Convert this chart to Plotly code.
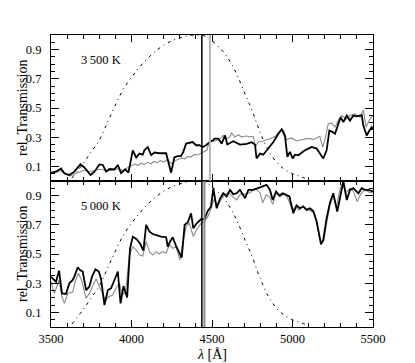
import plotly.graph_objects as go

# ---------------- data ----------------
# filter transmission curve (dash-dot), same in both panels
filt_wl = [3630, 3700, 3750, 3800, 3850, 3900, 3950, 4000, 4050, 4100, 4150, 4200, 4250,
           4300, 4350, 4400, 4450, 4500, 4550, 4600, 4650, 4700, 4750, 4800, 4850, 4900,
           4950, 5000, 5050, 5100]
filt_t = [0.02, 0.12, 0.20, 0.28, 0.40, 0.52, 0.63, 0.71, 0.78, 0.84, 0.89, 0.93, 0.96,
          0.98, 0.995, 1.0, 0.995, 0.96, 0.91, 0.84, 0.74, 0.61, 0.48, 0.33, 0.21, 0.13,
          0.08, 0.05, 0.03, 0.01]

# 3500 K panel
top_black_wl = [3500, 3531, 3562, 3583, 3614, 3645, 3683, 3707, 3745, 3770, 3801, 3822, 3842,
                3863, 3894, 3915, 3935, 3960, 3981, 4008, 4029, 4049, 4070, 4080, 4101, 4122,
                4142, 4173, 4215, 4235, 4246, 4266, 4287, 4308, 4322, 4339, 4360, 4380, 4401,
                4422, 4442, 4463, 4494, 4508, 4515, 4539, 4560, 4581, 4595, 4632, 4674, 4715,
                4746, 4767, 4777, 4798, 4818, 4839, 4881, 4912, 4933, 4953, 4968, 4984, 5001,
                5015, 5036, 5077, 5119, 5150, 5170, 5191, 5212, 5229, 5250, 5264, 5285, 5299,
                5316, 5337, 5357, 5378, 5399, 5430, 5440, 5461, 5478, 5492, 5500]
top_black_t = [0.057, 0.064, 0.086, 0.053, 0.041, 0.064, 0.114, 0.093, 0.041, 0.064, 0.114, 0.11,
               0.064, 0.082, 0.08, 0.11, 0.053, 0.08, 0.057, 0.21, 0.161, 0.188, 0.18, 0.21,
               0.233, 0.177, 0.195, 0.19, 0.19, 0.109, 0.057, 0.161, 0.17, 0.172, 0.2, 0.256,
               0.26, 0.267, 0.245, 0.245, 0.233, 0.245, 0.274, 0.279, 0.29, 0.29, 0.256, 0.312,
               0.25, 0.272, 0.249, 0.255, 0.266, 0.249, 0.154, 0.188, 0.18, 0.21, 0.267, 0.324,
               0.353, 0.31, 0.165, 0.2, 0.154, 0.18, 0.176, 0.21, 0.233, 0.222, 0.188, 0.154,
               0.21, 0.346, 0.335, 0.324, 0.392, 0.437, 0.403, 0.448, 0.414, 0.448, 0.443,
               0.452, 0.38, 0.312, 0.346, 0.369, 0.358]

top_gray_wl = [3500, 3530, 3560, 3590, 3620, 3650, 3680, 3710, 3740, 3770, 3800, 3830, 3860,
               3890, 3920, 3950, 3980, 4000, 4020, 4040, 4060, 4080, 4100, 4120, 4140, 4160,
               4180, 4200, 4225, 4240, 4255, 4270, 4290, 4310, 4330, 4350, 4370, 4390, 4410,
               4430, 4450, 4468, 4478, 4488, 4508, 4529, 4550, 4570, 4591, 4610, 4622, 4643,
               4663, 4684, 4700, 4715, 4735, 4756, 4770, 4787, 4818, 4840, 4860, 4880, 4901,
               4932, 4946, 4963, 4994, 5025, 5045, 5067, 5088, 5108, 5130, 5150, 5170, 5187,
               5201, 5222, 5243, 5264, 5284, 5305, 5336, 5357, 5388, 5419, 5440, 5457, 5477,
               5500]
top_gray_t = [0.05, 0.06, 0.07, 0.045, 0.035, 0.05, 0.065, 0.075, 0.065, 0.07, 0.08, 0.075,
              0.07, 0.075, 0.085, 0.07, 0.095, 0.105, 0.118, 0.106, 0.122, 0.112, 0.128, 0.118,
              0.134, 0.125, 0.14, 0.13, 0.148, 0.125, 0.118, 0.138, 0.148, 0.158, 0.152, 0.168,
              0.165, 0.182, 0.178, 0.192, 0.2, 0.21, 0.25, 0.267, 0.27, 0.278, 0.29, 0.312, 0.29,
              0.30, 0.328, 0.301, 0.317, 0.301, 0.305, 0.308, 0.302, 0.306, 0.233, 0.267,
              0.274, 0.28, 0.29, 0.30, 0.312, 0.358, 0.346, 0.283, 0.295, 0.274, 0.28, 0.283,
              0.29, 0.29, 0.285, 0.295, 0.306, 0.233, 0.278, 0.392, 0.396, 0.369, 0.414, 0.448,
              0.425, 0.448, 0.46, 0.437, 0.486, 0.369, 0.418, 0.448]

# 5000 K panel
bot_black_wl = [3500, 3515, 3531, 3550, 3568, 3593, 3614, 3635, 3645, 3666, 3680, 3697, 3718,
                3738, 3755, 3776, 3797, 3811, 3832, 3853, 3873, 3894, 3915, 3932, 3950, 3973,
                3991, 4008, 4033, 4054, 4074, 4091, 4112, 4132, 4153, 4184, 4215, 4225, 4240,
                4256, 4277, 4298, 4312, 4330, 4349, 4370, 4384, 4405, 4432, 4453, 4474, 4494,
                4508, 4529, 4550, 4570, 4591, 4612, 4632, 4653, 4674, 4705, 4726, 4757, 4788,
                4819, 4839, 4860, 4877, 4898, 4919, 4939, 4960, 4981, 5005, 5025, 5046, 5067,
                5088, 5108, 5129, 5150, 5166, 5177, 5191, 5212, 5232, 5253, 5278, 5299, 5316,
                5337, 5357, 5378, 5409, 5430, 5450, 5471, 5500]
bot_black_t = [0.344, 0.33, 0.31, 0.386, 0.23, 0.226, 0.299, 0.322, 0.345, 0.409, 0.39, 0.38,
               0.253, 0.276, 0.345, 0.395, 0.38, 0.33, 0.15, 0.253, 0.265, 0.322, 0.38, 0.162,
               0.28, 0.203, 0.539, 0.619, 0.60, 0.57, 0.523, 0.699, 0.653, 0.637, 0.63, 0.619,
               0.615, 0.55, 0.585, 0.615, 0.554, 0.50, 0.475, 0.70, 0.716, 0.779, 0.676, 0.71,
               0.738, 0.738, 0.797, 0.824, 0.95, 0.813, 0.88, 0.916, 0.894, 0.939, 0.91, 0.916,
               0.939, 0.882, 0.939, 0.939, 0.951, 0.962, 0.974, 0.939, 0.87, 0.928, 0.90, 0.916,
               0.905, 0.894, 0.779, 0.832, 0.813, 0.825, 0.802, 0.813, 0.795, 0.722, 0.63,
               0.566, 0.596, 0.745, 0.848, 0.916, 0.79, 0.916, 1.0, 0.87, 0.939, 0.951, 0.916,
               0.951, 0.939, 0.939, 0.928]

bot_gray_wl = [3500, 3521, 3550, 3568, 3583, 3604, 3635, 3650, 3670, 3690, 3718, 3738, 3759,
               3780, 3800, 3821, 3837, 3858, 3883, 3904, 3925, 3942, 3963, 3987, 4008, 4029,
               4049, 4070, 4091, 4112, 4132, 4153, 4173, 4194, 4215, 4235, 4256, 4277, 4301,
               4318, 4339, 4360, 4384, 4405, 4432, 4453, 4474, 4494, 4511, 4539, 4570, 4601,
               4632, 4653, 4677, 4705, 4736, 4767, 4798, 4815, 4836, 4857, 4877, 4898, 4922,
               4946, 4967, 5000, 5019, 5040, 5067, 5088, 5108, 5133, 5150, 5166, 5180, 5194,
               5215, 5232, 5253, 5273, 5294, 5311, 5330, 5357, 5378, 5402, 5423, 5450, 5481,
               5500]
bot_gray_t = [0.31, 0.23, 0.322, 0.207, 0.162, 0.23, 0.24, 0.31, 0.368, 0.322, 0.196, 0.23,
              0.28, 0.33, 0.28, 0.219, 0.185, 0.207, 0.219, 0.265, 0.3, 0.219, 0.24, 0.493,
              0.55, 0.527, 0.493, 0.486, 0.585, 0.516, 0.493, 0.516, 0.5, 0.516, 0.505, 0.562,
              0.539, 0.55, 0.459, 0.573, 0.687, 0.71, 0.619, 0.669, 0.71, 0.722, 0.756, 0.813,
              0.87, 0.84, 0.9, 0.92, 0.89, 0.87, 0.91, 0.91, 0.92, 0.95, 0.92, 0.85, 0.905,
              0.89, 0.84, 0.92, 0.89, 0.91, 0.89, 0.80, 0.825, 0.80, 0.83, 0.80, 0.80, 0.78,
              0.72, 0.62, 0.57, 0.59, 0.73, 0.83, 0.90, 0.82, 0.94, 0.985, 0.92, 0.95, 0.93,
              0.86, 0.91, 0.94, 0.92, 0.92]

# vertical marker wavelengths (black, gray) per panel
top_vlines = [4437, 4487]
bot_vlines = [4437, 4453]

panel_labels = ["3\u2009500 K", "5\u2009000 K"]
x_ticks = [3500, 4000, 4500, 5000, 5500]
y_ticks = [0.1, 0.3, 0.5, 0.7, 0.9]

# ---------------- figure ----------------
FONT = "Liberation Serif"
fig = go.Figure()

def add_panel(xref, yref, bw, bt, gw, gt):
    fig.add_trace(go.Scatter(x=filt_wl, y=filt_t, mode="lines", xaxis=xref, yaxis=yref,
                             line=dict(color="black", width=1, dash="3px,4px,1px,4px", shape="spline"),
                             showlegend=False, hoverinfo="skip"))
    fig.add_trace(go.Scatter(x=gw, y=gt, mode="lines", xaxis=xref, yaxis=yref,
                             line=dict(color="#8a8a8a", width=1.1), showlegend=False))
    fig.add_trace(go.Scatter(x=bw, y=bt, mode="lines", xaxis=xref, yaxis=yref,
                             line=dict(color="black", width=1.8), showlegend=False))

add_panel("x", "y", top_black_wl, top_black_t, top_gray_wl, top_gray_t)
add_panel("x2", "y2", bot_black_wl, bot_black_t, bot_gray_wl, bot_gray_t)

# vertical lines
for (xr, yr, vl, gcol) in [("x", "y", top_vlines, "#b4b4b4"), ("x2", "y2", bot_vlines, "#8a8a8a")]:
    fig.add_shape(type="line", xref=xr, yref=yr + " domain", x0=vl[1], x1=vl[1], y0=0, y1=1,
                  line=dict(color=gcol, width=2))
    fig.add_shape(type="line", xref=xr, yref=yr + " domain", x0=vl[0], x1=vl[0], y0=0, y1=1,
                  line=dict(color="black", width=1.5))

xcommon = dict(range=[3500, 5500], tickmode="array", tickvals=x_ticks, ticks="inside",
               ticklen=7, tickwidth=1, tickcolor="black", showline=True, linecolor="black",
               linewidth=1.2, mirror="allticks", showgrid=False, zeroline=False,
               minor=dict(dtick=100, tick0=3500, ticks="inside", ticklen=4, tickwidth=1,
                          tickcolor="black", showgrid=False),
               tickfont=dict(family=FONT, size=12.5, color="black"))
ycommon = dict(range=[0, 1], tickmode="array", tickvals=y_ticks, ticks="inside",
               ticklen=8, tickwidth=1, tickcolor="black", showline=True, linecolor="black",
               linewidth=1.2, mirror="allticks", showgrid=False, zeroline=False,
               minor=dict(dtick=0.05, tick0=0, ticks="inside", ticklen=4, tickwidth=1,
                          tickcolor="black", showgrid=False),
               tickfont=dict(family=FONT, size=12.5, color="black"), ticklabelstandoff=6)

# page body has an 8px margin, so the figure is 8px smaller and margins compensate
fig.update_layout(
    width=407, height=355,
    margin=dict(l=43, r=42, t=27, b=36),
    paper_bgcolor="white", plot_bgcolor="white",
    font=dict(family=FONT, size=13, color="black"),
    xaxis=dict(xcommon, domain=[0, 1], anchor="y", showticklabels=False),
    yaxis=dict(ycommon, domain=[0.5, 1], anchor="x"),
    xaxis2=dict(xcommon, domain=[0, 1], anchor="y2", matches="x"),
    yaxis2=dict(ycommon, domain=[0, 0.5], anchor="x2"),
)

ann = []
for i, (lab, yc) in enumerate(zip(panel_labels, [0.915, 0.415])):
    ann.append(dict(text=lab, xref="paper", yref="paper", x=0.155, y=yc, showarrow=False,
                    xanchor="center", yanchor="middle", font=dict(family=FONT, size=12.5)))
for yc in [0.75, 0.25]:
    ann.append(dict(text="rel. Transmission", xref="paper", yref="paper", x=-0.09, y=yc,
                    textangle=-90, showarrow=False, xanchor="center", yanchor="middle",
                    font=dict(family=FONT, size=14)))
ann.append(dict(text="<i>λ</i> [Å]", xref="paper", yref="paper", x=0.5, y=-0.094,
                showarrow=False, xanchor="center", yanchor="middle",
                font=dict(family=FONT, size=14)))
fig.update_layout(annotations=ann)

fig.write_html("out.html")
